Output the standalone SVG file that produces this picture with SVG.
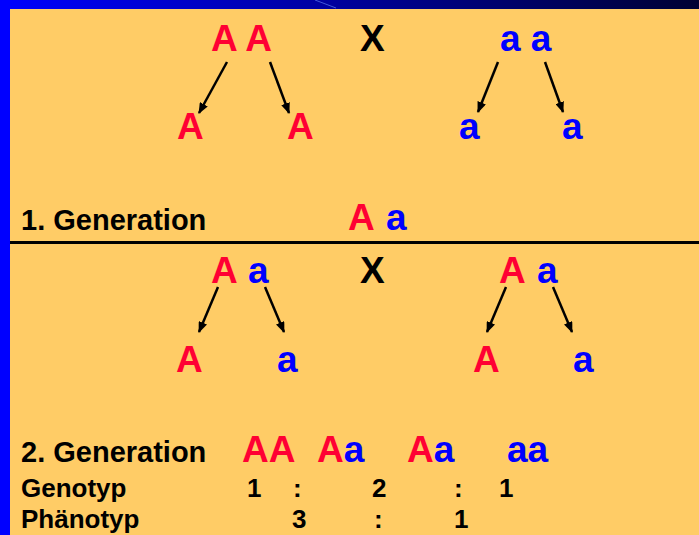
<svg xmlns="http://www.w3.org/2000/svg" width="699" height="535" viewBox="0 0 699 535">
<style>
.t{font-family:"Liberation Sans",Arial,sans-serif;font-weight:bold}
.big{font-size:37px}
.mid{font-size:29px}
.sm{font-size:26px}
.r{fill:#FF0033}
.b{fill:#0000FF}
.k{fill:#000000}
.arr{stroke:#000;stroke-width:2.5;fill:none;marker-end:url(#ah)}
</style>
<defs>
<linearGradient id="topg" x1="0" y1="0" x2="1" y2="0">
<stop offset="0" stop-color="#0000FF"/>
<stop offset="1" stop-color="#000033"/>
</linearGradient>
<marker id="ah" markerUnits="userSpaceOnUse" markerWidth="11" markerHeight="9" refX="10" refY="4.5" orient="auto">
<path d="M0,0 L11,4.5 L0,9 z" fill="#000"/>
</marker>
</defs>
<rect x="0" y="0" width="699" height="535" fill="#FFCC66"/>
<rect x="0" y="0" width="699" height="9" fill="url(#topg)"/>
<rect x="0" y="0" width="10" height="535" fill="#0000FF"/>
<line x1="315" y1="0" x2="336" y2="8" stroke="#6f8fff" stroke-width="1" opacity="0.6"/>
<rect x="10" y="241" width="689" height="3" fill="#000"/>

<g id="parent1"><text class="t big r" x="211" y="51">A A</text></g>
<g id="cross1"><text class="t big k" x="360" y="51">X</text></g>
<g id="parent2"><text class="t big b" x="500" y="51">a a</text></g>
<g id="gamete1"><text class="t big r" x="177" y="139">A</text></g>
<g id="gamete2"><text class="t big r" x="287" y="139">A</text></g>
<g id="gamete3"><text class="t big b" x="459" y="139">a</text></g>
<g id="gamete4"><text class="t big b" x="562" y="139">a</text></g>

<g id="gen1label"><text class="t mid k" x="21" y="230">1. Generation</text></g>
<g id="gen1"><text class="t big r" x="348" y="230">A</text><text class="t big b" x="386" y="230">a</text></g>

<g id="parent3"><text class="t big r" x="211" y="283">A</text><text class="t big b" x="248" y="283">a</text></g>
<g id="cross2"><text class="t big k" x="360" y="283">X</text></g>
<g id="parent4"><text class="t big r" x="499" y="283">A</text><text class="t big b" x="537" y="283">a</text></g>
<g id="gamete5"><text class="t big r" x="176" y="372">A</text></g>
<g id="gamete6"><text class="t big b" x="277" y="372">a</text></g>
<g id="gamete7"><text class="t big r" x="473" y="372">A</text></g>
<g id="gamete8"><text class="t big b" x="573" y="372">a</text></g>

<g id="gen2label"><text class="t mid k" x="21" y="462">2. Generation</text></g>
<g id="gen2">
<text class="t big r" x="242" y="462">AA</text>
<text class="t big" x="317" y="462"><tspan class="r">A</tspan><tspan class="b">a</tspan></text>
<text class="t big" x="407" y="462"><tspan class="r">A</tspan><tspan class="b">a</tspan></text>
<text class="t big b" x="507" y="462">aa</text>
</g>
<g id="genotyp">
<text class="t sm k" x="21" y="497">Genotyp</text>
<text class="t sm k" x="247" y="497">1</text>
<text class="t sm k" x="293" y="497">:</text>
<text class="t sm k" x="372" y="497">2</text>
<text class="t sm k" x="454" y="497">:</text>
<text class="t sm k" x="499" y="497">1</text>
</g>
<g id="phaenotyp">
<text class="t sm k" x="21" y="528">Phänotyp</text>
<text class="t sm k" x="292" y="528">3</text>
<text class="t sm k" x="374" y="528">:</text>
<text class="t sm k" x="454" y="528">1</text>
</g>

<g id="connectors">
<line class="arr" x1="227" y1="62" x2="199" y2="113"/>
<line class="arr" x1="270" y1="62" x2="289" y2="113"/>
<line class="arr" x1="498" y1="62" x2="478" y2="112"/>
<line class="arr" x1="545" y1="62" x2="563" y2="112"/>
<line class="arr" x1="218" y1="287" x2="199" y2="332"/>
<line class="arr" x1="265" y1="287" x2="284" y2="332"/>
<line class="arr" x1="506" y1="287" x2="487" y2="332"/>
<line class="arr" x1="553" y1="287" x2="572" y2="332"/>
</g>
</svg>
